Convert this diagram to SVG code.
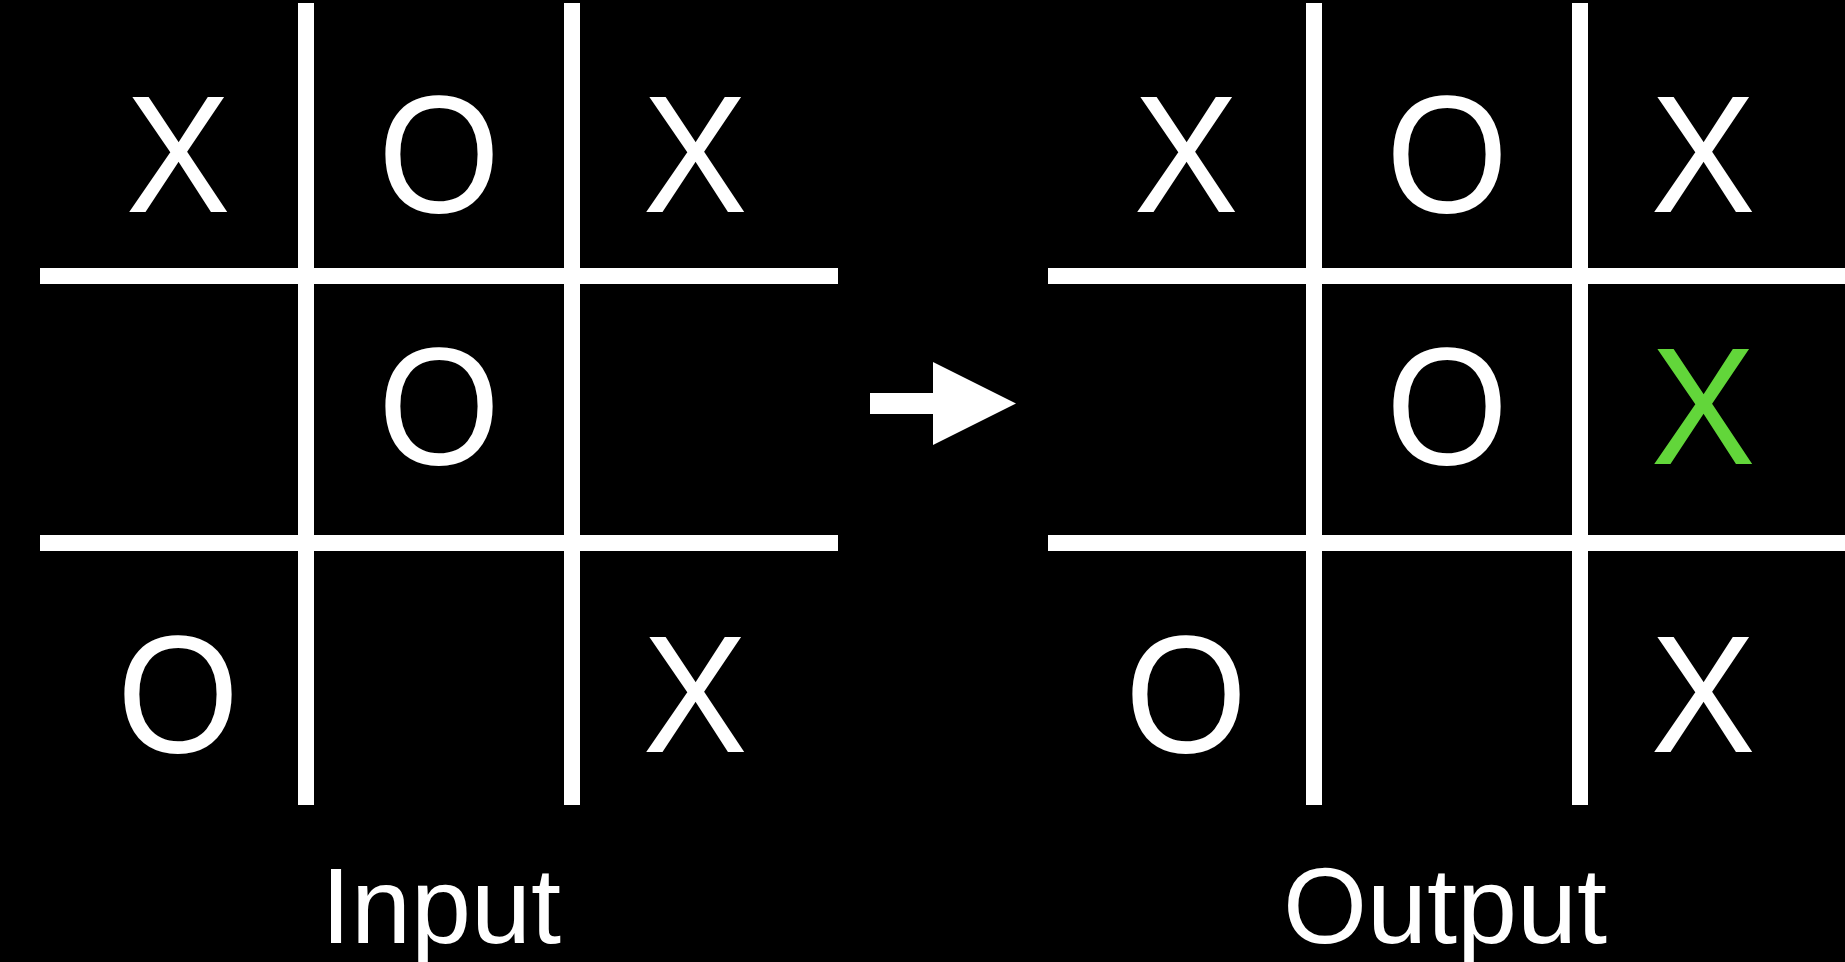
<svg xmlns="http://www.w3.org/2000/svg" width="1845" height="962" viewBox="0 0 1845 962">
<style>
.ln{fill:#ffffff}
.m{font-family:"Liberation Sans",Arial,Helvetica,sans-serif;font-size:167px;fill:#ffffff;text-anchor:middle}
.g{fill:#62d63a}
.lbl{font-family:"Liberation Sans",Arial,Helvetica,sans-serif;font-size:108px;fill:#ffffff;text-anchor:middle}
</style>
<rect x="0" y="0" width="1845" height="962" fill="#000000"/>
<g id="input-board">
<g id="input-grid">
<rect class="ln" x="298" y="3" width="16" height="802"/>
<rect class="ln" x="564" y="3" width="16" height="802"/>
<rect class="ln" x="40" y="268" width="798" height="16"/>
<rect class="ln" x="40" y="535" width="798" height="16"/>
</g>
<g id="in-r1c1"><text class="m" transform="translate(178 212) scale(0.94 1)">X</text></g>
<g id="in-r1c2"><text class="m" transform="translate(439 212) scale(0.94 1)">O</text></g>
<g id="in-r1c3"><text class="m" transform="translate(695 212) scale(0.94 1)">X</text></g>
<g id="in-r2c2"><text class="m" transform="translate(439 464) scale(0.94 1)">O</text></g>
<g id="in-r3c1"><text class="m" transform="translate(178 752) scale(0.94 1)">O</text></g>
<g id="in-r3c3"><text class="m" transform="translate(695 752) scale(0.94 1)">X</text></g>
<g id="input-label"><text class="lbl" x="441" y="943">Input</text></g>
</g>
<g id="output-board">
<g id="output-grid">
<rect class="ln" x="1306" y="3" width="16" height="802"/>
<rect class="ln" x="1572" y="3" width="16" height="802"/>
<rect class="ln" x="1048" y="268" width="800" height="16"/>
<rect class="ln" x="1048" y="535" width="800" height="16"/>
</g>
<g id="out-r1c1"><text class="m" transform="translate(1186 212) scale(0.94 1)">X</text></g>
<g id="out-r1c2"><text class="m" transform="translate(1447 212) scale(0.94 1)">O</text></g>
<g id="out-r1c3"><text class="m" transform="translate(1703 212) scale(0.94 1)">X</text></g>
<g id="out-r2c2"><text class="m" transform="translate(1447 464) scale(0.94 1)">O</text></g>
<g id="out-r2c3"><text class="m g" transform="translate(1703 464) scale(0.94 1)">X</text></g>
<g id="out-r3c1"><text class="m" transform="translate(1186 752) scale(0.94 1)">O</text></g>
<g id="out-r3c3"><text class="m" transform="translate(1703 752) scale(0.94 1)">X</text></g>
<g id="output-label"><text class="lbl" x="1445" y="943">Output</text></g>
</g>
<g id="connectors">
<polygon class="ln" points="870,393 933,393 933,362 1016,403.5 933,445 933,414 870,414"/>
</g>
</svg>
